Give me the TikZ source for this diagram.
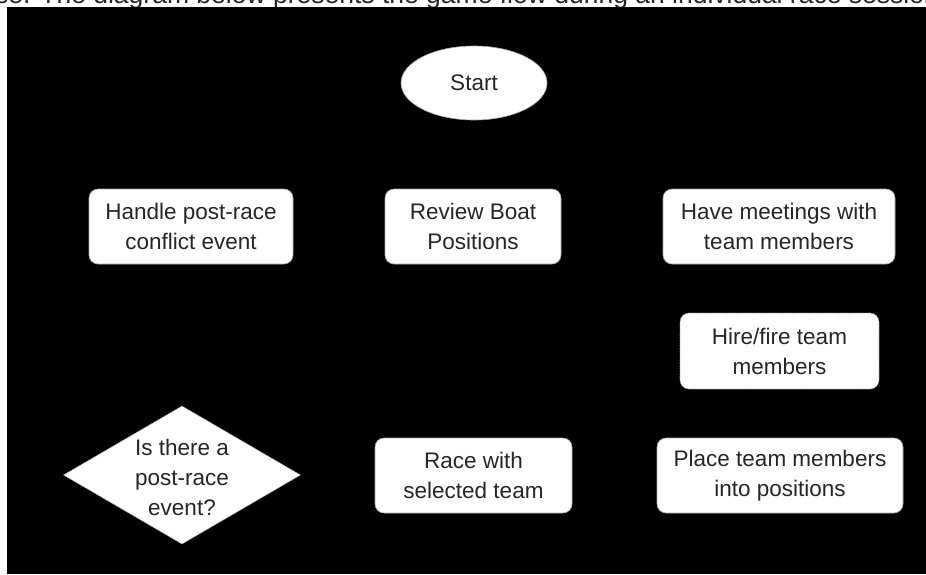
\documentclass[tikz,border=0pt]{standalone}
\usepackage{fontspec}
\setmainfont{Liberation Sans}
\usetikzlibrary{shapes.geometric}
\begin{document}
\begin{tikzpicture}[x=1pt,y=-1pt,
  lbl/.style={align=center, text=black!85, font=\fontsize{22.5}{30}\selectfont, inner sep=0pt},
  box/.style={lbl, draw=gray!70, line width=0.6pt, fill=white, rounded corners=9pt, minimum height=75pt},
  dbox/.style={box, draw=gray!80, dash pattern=on 1.6pt off 1.2pt},
  startshape/.style={lbl, ellipse, draw=gray!70, line width=0.6pt, fill=white, minimum width=146pt, minimum height=74pt},
  decision/.style={diamond, fill=white, draw=gray!60, line width=0.4pt, inner sep=0pt, minimum width=237pt, minimum height=138pt}
 ]
\useasboundingbox (0,0) rectangle (926,574);
\fill[white] (0,0) rectangle (926,574);
\begin{scope}
  \clip (0,0) rectangle (926,574);
  \node[anchor=base west, font=\fontsize{26.5}{30}\selectfont, text=black!85, inner sep=0pt] (caption) at (-5,3.5) {se. The diagram below presents the game flow during an individual race session.};
\end{scope}
\fill[black] (7,7) rectangle (926,574);

\node[startshape] (start) at (474,83) {Start};

\node[box, minimum width=204pt] (handle) at (191,226.5) {Handle post-race\\conflict event};
\node[box, minimum width=176pt] (review) at (473,226.5) {Review Boat\\Positions};
\node[box, minimum width=232pt] (meet) at (779,226.5) {Have meetings with\\team members};
\node[dbox, minimum width=199pt, minimum height=76pt] (hire) at (779.5,351) {Hire/fire team\\members};

\node[decision] (q) at (182,475) {};
\node[lbl] (qtext) at (182,477) {Is there a\\post-race\\event?};

\node[box, minimum width=197pt] (race) at (473.5,475.5) {Race with\\selected team};
\node[box, minimum width=246pt] (place) at (780,475.5) {Place team members\\into positions};
\end{tikzpicture}
\end{document}
